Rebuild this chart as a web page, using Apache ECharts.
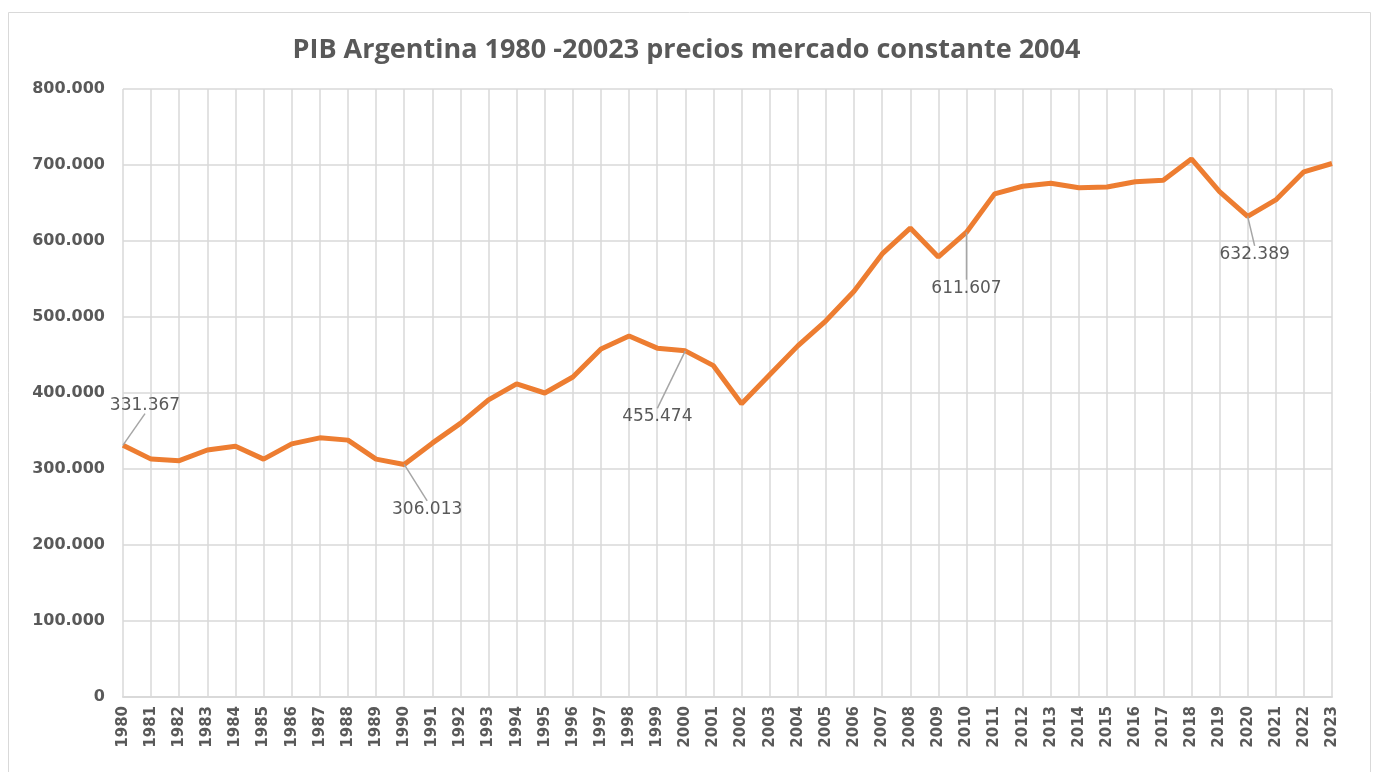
<!DOCTYPE html>
<html>
<head>
<meta charset="utf-8">
<script src="https://cdn.jsdelivr.net/npm/echarts@6/dist/echarts.min.js"></script>
<style>
  html, body { margin: 0; padding: 0; background: #fff; }
  #chart { width: 1373px; height: 772px; }
</style>
</head>
<body>
<div id="chart"></div>
<script>
var years = [];
for (var y = 1980; y <= 2023; y++) years.push(String(y));

// PIB a precios de mercado constantes 2004
var pib = [
  331367, 313000, 311000, 325000, 330000, 313000, 333000, 341000, 338000, 313000,
  306013, 334000, 360000, 391000, 412000, 400000, 421000, 458000, 475000, 459000,
  455474, 436000, 386000, 424000, 462000, 495000, 534000, 583000, 617000, 579000,
  611607, 662000, 672000, 676000, 670000, 671000, 678000, 680000, 708000, 665000,
  632389, 654000, 691000, 702000
];

// años con etiqueta y desplazamiento de la etiqueta (px)
var labelYears = ['1980', '1990', '2000', '2010', '2020'];
var labelOffsets = {
  '1980': [22, -40],
  '1990': [23, 45],
  '2000': [-28, 66],
  '2010': [0, 56],
  '2020': [7, 38]
};

function fmt(v) {
  return String(v).replace(/\B(?=(\d{3})+(?!\d))/g, '.');
}

var points = pib.map(function (v, i) {
  var item = { value: v };
  if (labelYears.indexOf(years[i]) >= 0) {
    item.label = { show: true };
    item.labelLine = { show: true };
  }
  return item;
});

var chart = echarts.init(document.getElementById('chart'));
chart.setOption({
  animation: false,
  title: {
    text: 'PIB Argentina 1980 -20023 precios mercado constante 2004',
    left: 'center',
    top: 32,
    textStyle: {
      fontFamily: 'Open Sans',
      fontSize: 27,
      fontWeight: 'bold',
      color: '#595959'
    }
  },
  graphic: [{
    type: 'rect',
    shape: { x: 8.5, y: 12.5, width: 1362, height: 780 },
    style: { fill: 'none', stroke: '#d9d9d9', lineWidth: 1 },
    silent: true
  }],
  grid: { left: 123, right: 41, top: 89, bottom: 75 },
  xAxis: {
    type: 'category',
    data: years,
    boundaryGap: false,
    axisLine: { lineStyle: { color: '#d9d9d9', width: 2 } },
    axisTick: { show: false },
    splitLine: { show: true, lineStyle: { color: '#d9d9d9', width: 1.5 } },
    axisLabel: {
      interval: 0,
      rotate: 90,
      margin: 9,
      fontFamily: 'DejaVu Sans',
      fontSize: 15,
      fontWeight: 'bold',
      color: '#595959'
    }
  },
  yAxis: {
    type: 'value',
    min: 0,
    max: 800000,
    interval: 100000,
    axisLine: { show: false },
    axisTick: { show: false },
    splitLine: { lineStyle: { color: '#d9d9d9', width: 1.5 } },
    axisLabel: {
      margin: 18,
      fontFamily: 'DejaVu Sans',
      fontSize: 16,
      fontWeight: 'bold',
      color: '#595959',
      formatter: function (v) { return fmt(v); }
    }
  },
  series: [{
    type: 'line',
    data: points,
    symbol: 'circle',
    symbolSize: 0.1,
    showSymbol: true,
    itemStyle: { color: '#ED7D31' },
    lineStyle: { color: '#ED7D31', width: 5 },
    label: {
      show: false,
      position: 'inside',
      fontFamily: 'DejaVu Sans',
      fontSize: 17,
      color: '#595959',
      formatter: function (p) { return fmt(p.value); }
    },
    labelLine: { show: false, lineStyle: { color: '#a6a6a6', width: 1.5 } },
    labelLayout: function (params) {
      var off = labelOffsets[years[params.dataIndex]];
      if (!off) return {};
      return { dx: off[0], dy: off[1] };
    }
  }]
});
</script>
</body>
</html>
